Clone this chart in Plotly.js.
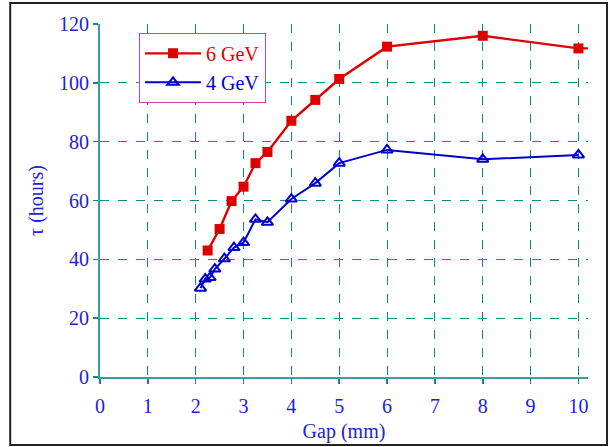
<!DOCTYPE html>
<html>
<head>
<meta charset="utf-8">
<script src="https://cdn.plot.ly/plotly-3.0.1.min.js"></script>
<style>html,body{margin:0;padding:0;background:#fff;}#chart{width:610px;height:447px;}</style>
</head>
<body>
<div id="chart"></div>
<script>
// Gap (mm) and lifetime tau (hours)
const gap6 = [2.25, 2.5, 2.75, 3.0, 3.25, 3.5, 4.0, 4.5, 5.0, 6.0, 8.0, 10.0, 11.0];
const tau6 = [43.0, 50.3, 59.8, 64.7, 72.7, 76.5, 87.1, 94.2, 101.3, 112.3, 116.0, 111.7, 111.8];
const gap4 = [2.1, 2.2, 2.3, 2.4, 2.6, 2.8, 3.0, 3.25, 3.5, 4.0, 4.5, 5.0, 6.0, 8.0, 10.0];
const tau4 = [30.2, 33.3, 33.8, 36.7, 40.2, 44.0, 45.7, 53.6, 52.6, 60.5, 65.9, 72.7, 77.2, 74.0, 75.5];
const seriesNames = ['6 GeV', '4 GeV'];
const xTicks = [0, 1, 2, 3, 4, 5, 6, 7, 8, 9, 10];
const yTicks = [0, 20, 40, 60, 80, 100, 120];
const xTitle = 'Gap (mm)';
const yTitle = 'τ (hours)';

const blueText = '#2121d8';
const red = '#dd0000';
const blue = '#0000cc';
const teal = '#0a8a8a';
const font = 'Liberation Serif, Times New Roman, serif';

const traces = [
  {
    x: gap6, y: tau6, name: '<span style="color:' + red + '">' + seriesNames[0] + '</span>',
    type: 'scatter', mode: 'lines+markers',
    line: {color: red, width: 2.4},
    marker: {symbol: 'square', size: 10, color: red}
  },
  {
    x: gap4, y: tau4, name: '<span style="color:' + blue + '">' + seriesNames[1] + '</span>',
    type: 'scatter', mode: 'lines+markers',
    line: {color: blue, width: 2},
    marker: {symbol: 'triangle-up-open', size: 10, color: blue, line: {width: 2, color: blue}}
  }
];

const layout = {
  width: 610, height: 447,
  margin: {l: 100, r: 22, t: 24, b: 70},
  paper_bgcolor: '#ffffff', plot_bgcolor: '#ffffff',
  font: {family: font, size: 20, color: blueText},
  showlegend: true,
  legend: {
    x: 0.08, y: 0.975, xanchor: 'left', yanchor: 'top',
    bgcolor: '#ffffff', bordercolor: '#e0409a', borderwidth: 1,
    font: {family: font, size: 20},
    itemwidth: 56, tracegroupgap: 0
  },
  xaxis: {
    range: [0, 10.2], tickvals: xTicks, ticktext: xTicks.map(String),
    showline: true, linecolor: '#3a9f9f', linewidth: 2,
    ticks: 'outside', ticklen: 5, tickcolor: teal, tickwidth: 1.5,
    ticklabelstandoff: 5,
    showgrid: true, gridcolor: teal, griddash: 'dash', gridwidth: 1,
    zeroline: false,
    tickfont: {family: font, size: 20, color: blueText},
    title: {text: xTitle, font: {family: font, size: 20, color: blueText}, standoff: 8},
    automargin: false
  },
  yaxis: {
    range: [0, 120], tickvals: yTicks, ticktext: yTicks.map(String),
    showline: true, linecolor: '#3a9f9f', linewidth: 2,
    ticks: 'outside', ticklen: 5, tickcolor: teal, tickwidth: 1.5,
    showgrid: true, gridcolor: teal, griddash: 'dash', gridwidth: 1,
    zeroline: false,
    tickfont: {family: font, size: 20, color: blueText},
    title: {text: yTitle, font: {family: font, size: 20, color: blueText}, standoff: 10},
    automargin: false
  },
  shapes: [
    {type: 'rect', xref: 'paper', yref: 'paper', x0: -0.184, x1: 1.039, y0: -0.1926, y1: 1.0595,
     line: {color: '#222222', width: 2}, fillcolor: 'rgba(0,0,0,0)', layer: 'below'}
  ]
};

Plotly.newPlot('chart', traces, layout, {displayModeBar: false, staticPlot: true});
</script>
</body>
</html>
